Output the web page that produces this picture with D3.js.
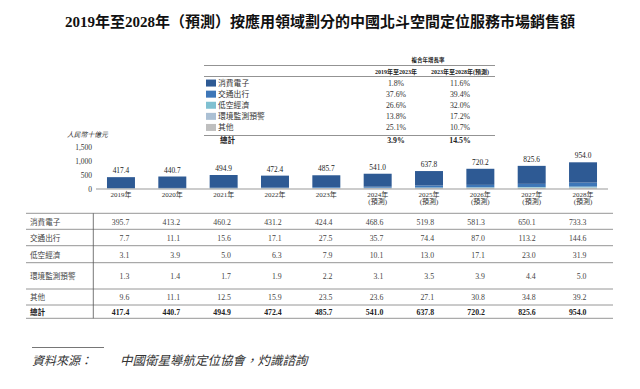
<!DOCTYPE html>
<html>
<head>
<meta charset="utf-8">
<script src="https://cdn.jsdelivr.net/npm/d3@7"></script>
<style>
  body { margin: 0; background: #fff; }
  svg text { font-family: "Liberation Serif", "Noto Sans CJK TC", serif; }
</style>
</head>
<body>
<div id="app"></div>
<script>
// data
const years = ['2019', '2020', '2021', '2022', '2023', '2024', '2025', '2026', '2027', '2028'];
const firstForecast = '2024';
const seriesNames = ['消費電子', '交通出行', '低空經濟', '環境監測預警', '其他'];
const consumer = [395.7, 413.2, 460.2, 431.2, 424.4, 468.6, 519.8, 581.3, 650.1, 733.3];
const transport = [7.7, 11.1, 15.6, 17.1, 27.5, 35.7, 74.4, 87.0, 113.2, 144.6];
const lowAltitude = [3.1, 3.9, 5.0, 6.3, 7.9, 10.1, 13.0, 17.1, 23.0, 31.9];
const environment = [1.3, 1.4, 1.7, 1.9, 2.2, 3.1, 3.5, 3.9, 4.4, 5.0];
const others = [9.6, 11.1, 12.5, 15.9, 23.5, 23.6, 27.1, 30.8, 34.8, 39.2];
const totals = [417.4, 440.7, 494.9, 472.4, 485.7, 541.0, 637.8, 720.2, 825.6, 954.0];
const cagrHeaders = ['2019年至2023年', '2023年至2028年(預測)'];
const cagr2019to2023 = [1.8, 37.6, 26.6, 13.8, 25.1];
const cagr2023to2028 = [11.6, 39.4, 32.0, 17.2, 10.7];
const cagrTotal = [3.9, 14.5];
const yTicks = [0, 500, 1000, 1500];

const colors = ['#2e5a94', '#3e77b8', '#7fc0d1', '#abc0d4', '#bfbfbf'];
const values = [consumer, transport, lowAltitude, environment, others];

const width = 640, height = 389;
const svg = d3.select('#app').append('svg')
  .attr('width', width).attr('height', height);

// title
svg.append('text')
  .attr('x', 320).attr('y', 27)
  .attr('text-anchor', 'middle')
  .attr('font-size', 15).attr('font-weight', 'bold').attr('fill', '#111')
  .text('2019年至2028年（預測）按應用領域劃分的中國北斗空間定位服務市場銷售額');

// ---- legend / CAGR table ----
const lg = svg.append('g');
lg.append('text').attr('x', 428).attr('y', 62).attr('text-anchor', 'middle')
  .attr('font-size', 5.5).attr('font-weight', 'bold').attr('fill', '#222').text('複合年增長率');
lg.append('line').attr('x1', 204).attr('x2', 495).attr('y1', 65.5).attr('y2', 65.5)
  .attr('stroke', '#777').attr('stroke-width', 0.8);
const cagrCols = [396, 460];
cagrHeaders.forEach((h, i) => {
  lg.append('text').attr('x', cagrCols[i]).attr('y', 73.5).attr('text-anchor', 'middle')
    .attr('font-size', 6).attr('font-weight', 'bold').attr('fill', '#222').text(h);
});
lg.append('line').attr('x1', 204).attr('x2', 495).attr('y1', 76.5).attr('y2', 76.5)
  .attr('stroke', '#777').attr('stroke-width', 0.8);

const rowY = d3.scaleBand().domain(seriesNames).range([77.5, 133]);
const legRows = lg.selectAll('g.row').data(seriesNames).join('g')
  .attr('transform', d => `translate(0,${rowY(d) + rowY.bandwidth() / 2})`);
legRows.append('rect').attr('x', 206).attr('y', -3.5).attr('width', 10).attr('height', 7)
  .attr('fill', (d, i) => colors[i]);
legRows.append('text').attr('x', 218).attr('y', 2.8)
  .attr('font-size', 7.8).attr('fill', '#333').text(d => d);
legRows.append('text').attr('x', cagrCols[0]).attr('y', 2.8).attr('text-anchor', 'middle')
  .attr('font-size', 7.8).attr('fill', '#333').text((d, i) => cagr2019to2023[i].toFixed(1) + '%');
legRows.append('text').attr('x', cagrCols[1]).attr('y', 2.8).attr('text-anchor', 'middle')
  .attr('font-size', 7.8).attr('fill', '#333').text((d, i) => cagr2023to2028[i].toFixed(1) + '%');
lg.append('line').attr('x1', 204).attr('x2', 495).attr('y1', 135.5).attr('y2', 135.5)
  .attr('stroke', '#777').attr('stroke-width', 0.8);
lg.append('text').attr('x', 220).attr('y', 143).attr('font-size', 7.5).attr('font-weight', 'bold')
  .attr('fill', '#222').text('總計');
cagrTotal.forEach((v, i) => {
  lg.append('text').attr('x', cagrCols[i]).attr('y', 143).attr('text-anchor', 'middle')
    .attr('font-size', 7.8).attr('font-weight', 'bold').attr('fill', '#222').text(v.toFixed(1) + '%');
});

// ---- stacked bars ----
const x = d3.scaleBand().domain(years).range([95.3, 608.7])
  .paddingInner(0.455).paddingOuter(0.2275);
const y = d3.scaleLinear().domain([0, 1500]).range([188.7, 147.2]);

svg.append('text').attr('x', 67).attr('y', 137).attr('font-size', 6.8)
  .attr('font-style', 'italic').attr('fill', '#333').text('人民幣十億元');

const yAxis = svg.append('g').attr('transform', 'translate(92,0)')
  .call(d3.axisLeft(y).tickValues(yTicks).tickSize(0).tickPadding(0).tickFormat(d3.format(',')));
yAxis.select('.domain').remove();
yAxis.selectAll('text').attr('font-size', 7.5).attr('fill', '#333')
  .style('font-family', '"Liberation Serif", serif');

const rows = years.map((yr, i) => {
  const o = { year: yr };
  seriesNames.forEach((s, j) => { o[s] = values[j][i]; });
  return o;
});
const stack = d3.stack().keys(seriesNames.slice().reverse())(rows);
svg.append('g').selectAll('g').data(stack).join('g')
  .attr('fill', d => colors[seriesNames.indexOf(d.key)])
  .selectAll('rect').data(d => d).join('rect')
  .attr('x', d => x(d.data.year))
  .attr('width', x.bandwidth())
  .attr('y', d => y(d[1]))
  .attr('height', d => y(d[0]) - y(d[1]));

svg.append('line').attr('x1', 96).attr('x2', 608).attr('y1', 189).attr('y2', 189)
  .attr('stroke', '#999').attr('stroke-width', 1);

svg.append('g').selectAll('text').data(years).join('text')
  .attr('x', d => x(d) + x.bandwidth() / 2)
  .attr('y', (d, i) => y(totals[i]) - 4)
  .attr('text-anchor', 'middle').attr('font-size', 7.4).attr('fill', '#222')
  .text((d, i) => totals[i].toFixed(1));

const xl = svg.append('g').selectAll('text').data(years).join('text')
  .attr('x', d => x(d) + x.bandwidth() / 2)
  .attr('y', 196.5)
  .attr('text-anchor', 'middle').attr('font-size', 7).attr('fill', '#333');
xl.append('tspan').text(d => d + '年');
xl.filter(d => d >= firstForecast).append('tspan')
  .attr('x', d => x(d) + x.bandwidth() / 2).attr('dy', 7.5).text('(預測)');

// ---- data table ----
const tableRows = seriesNames.concat(['總計']);
const tableValues = values.concat([totals]);
const rowEdges = [213.3, 229.3, 245.7, 262.7, 289, 305, 318.3];
const tcol = d3.scalePoint().domain(years).range([129.3, 586.5]);
const tg = svg.append('g');
rowEdges.forEach(e => {
  tg.append('line').attr('x1', 26).attr('x2', 613).attr('y1', e).attr('y2', e)
    .attr('stroke', '#8a8a8a').attr('stroke-width', 0.9);
});
tg.append('line').attr('x1', 93.3).attr('x2', 93.3).attr('y1', rowEdges[0]).attr('y2', rowEdges[6])
  .attr('stroke', '#555').attr('stroke-width', 0.8);
tableRows.forEach((name, r) => {
  const cy = (rowEdges[r] + rowEdges[r + 1]) / 2 + 3.4;
  const bold = r === tableRows.length - 1;
  tg.append('text').attr('x', 30).attr('y', cy).attr('font-size', 7.6)
    .attr('font-weight', bold ? 'bold' : 'normal').attr('fill', bold ? '#222' : '#444').text(name);
  tg.selectAll(null).data(years).join('text')
    .attr('x', d => tcol(d)).attr('y', cy).attr('text-anchor', 'end')
    .attr('font-size', 7.8).attr('font-weight', bold ? 'bold' : 'normal')
    .attr('fill', bold ? '#222' : '#444')
    .text((d, i) => tableValues[r][i].toFixed(1));
});

// ---- source ----
svg.append('line').attr('x1', 32).attr('x2', 104).attr('y1', 347.5).attr('y2', 347.5)
  .attr('stroke', '#666').attr('stroke-width', 0.9);
svg.append('text').attr('x', 32).attr('y', 365).attr('font-size', 12)
  .attr('font-style', 'italic').attr('fill', '#333').text('資料來源：');
svg.append('text').attr('x', 120).attr('y', 365).attr('font-size', 12.5)
  .attr('font-style', 'italic').attr('fill', '#333').text('中國衛星導航定位協會，灼識諮詢');
</script>
</body>
</html>
